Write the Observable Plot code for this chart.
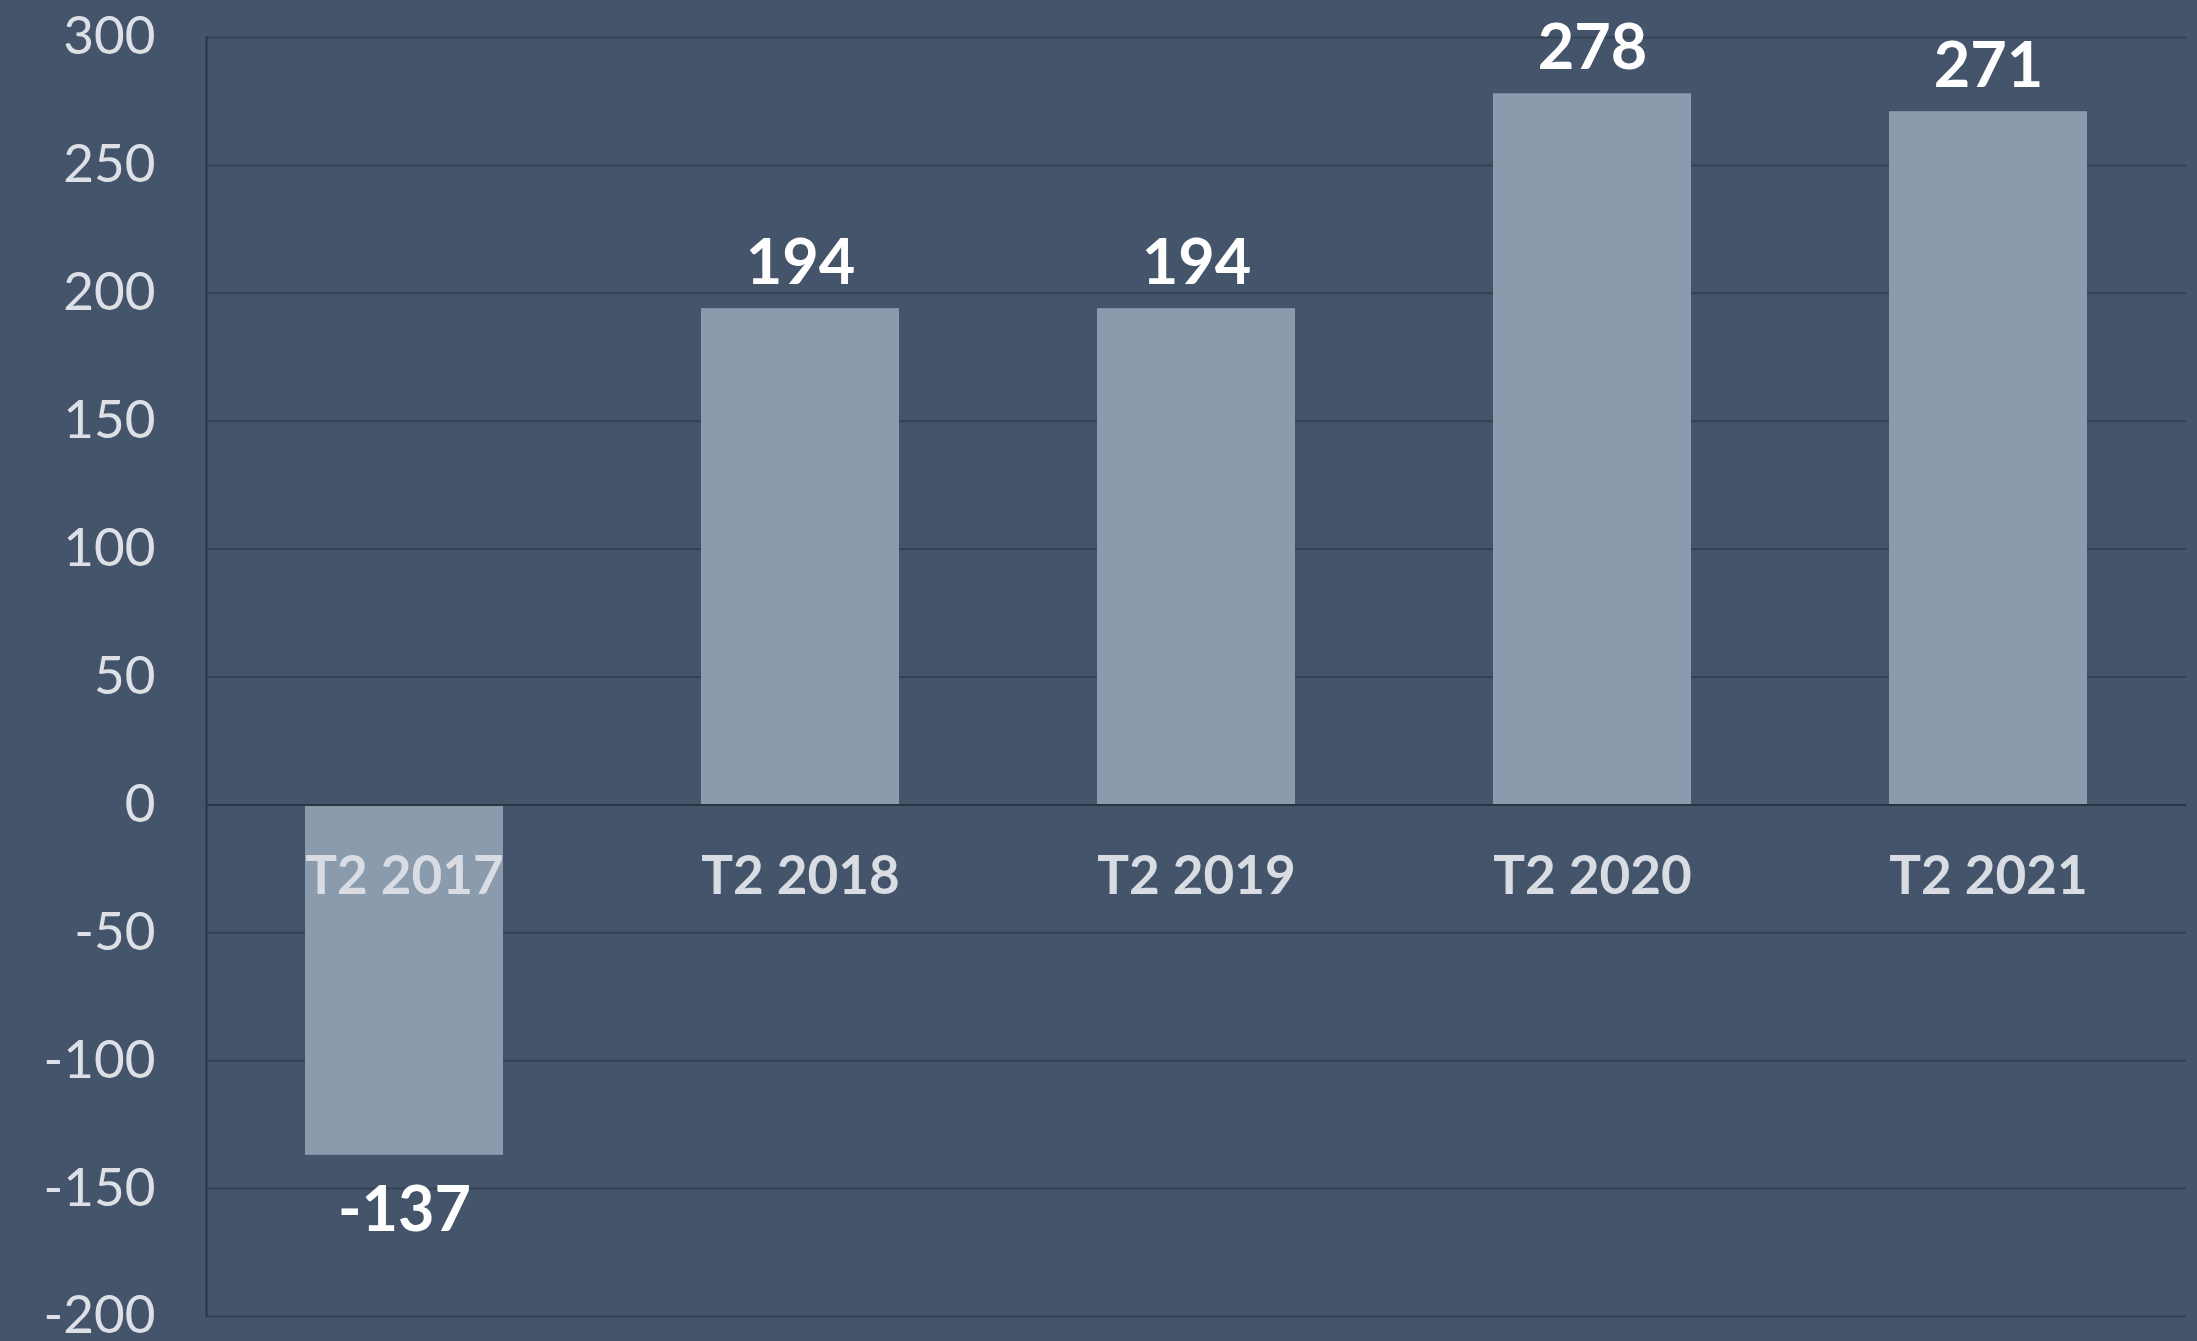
<!DOCTYPE html>
<html>
<head>
<meta charset="utf-8">
<script src="https://cdn.jsdelivr.net/npm/d3@7"></script>
<script src="https://cdn.jsdelivr.net/npm/@observablehq/plot@0.6"></script>
<style>
  html, body { margin: 0; padding: 0; background: #44546A; }
  #chart { width: 2197px; height: 1341px; overflow: hidden; }
</style>
</head>
<body>
<div id="chart"></div>
<script>
const categories = ["T2 2017", "T2 2018", "T2 2019", "T2 2020", "T2 2021"];
const values = [-137, 194, 194, 278, 271];
const yTicks = [-200, -150, -100, -50, 0, 50, 100, 150, 200, 250, 300];

const data = categories.map((c, i) => ({cat: c, value: values[i]}));

const chart = Plot.plot({
  width: 2197,
  height: 1341,
  marginLeft: 206,
  marginRight: 11,
  marginTop: 37,
  marginBottom: 25,
  style: {background: "transparent", fontFamily: "Lato, 'Noto Sans', sans-serif", color: "#dde1e7", overflow: "visible"},
  x: {domain: categories, paddingInner: 0.5, paddingOuter: 0.25, axis: null},
  y: {domain: [-200, 300], ticks: yTicks, tickSize: 0, tickPadding: 51, tickFormat: d => String(d), label: null},
  marks: [
    Plot.ruleY(yTicks.filter(d => d !== 0), {stroke: "#354253", strokeWidth: 2}),
    Plot.barY(data, {x: "cat", y: "value", fill: "#8A9BAE"}),
    Plot.ruleY([0], {stroke: "#2B3441", strokeWidth: 2}),
    Plot.frame({anchor: "left", stroke: "#2B3441", strokeWidth: 2}),
    Plot.axisY({ticks: yTicks, tickSize: 0, tickPadding: 51, fontSize: 53, fill: "#dde1e7", tickFormat: d => String(d), label: null}),
    Plot.text(data.filter(d => d.value >= 0), {x: "cat", y: "value", text: d => String(d.value), lineAnchor: "bottom", dy: -25, fontSize: 63, fontWeight: "bold", fill: "#ffffff"}),
    Plot.text(data.filter(d => d.value < 0), {x: "cat", y: "value", text: d => String(d.value), lineAnchor: "bottom", dy: 76, fontSize: 63, fontWeight: "bold", fill: "#ffffff"}),
    Plot.text(data, {x: "cat", y: () => 0, text: "cat", lineAnchor: "middle", dy: 72, fontSize: 53, fontWeight: "bold", fill: "#d9dde3"})
  ]
});
document.getElementById("chart").appendChild(chart);
</script>
</body>
</html>
